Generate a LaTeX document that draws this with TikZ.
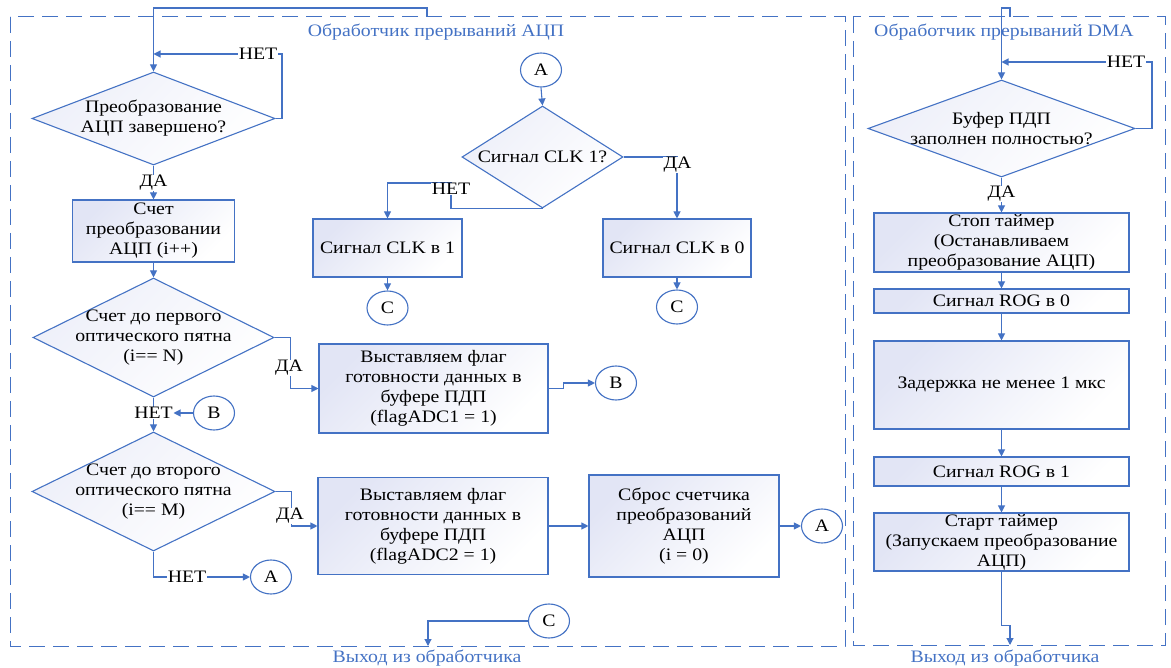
\documentclass[tikz,border=0pt]{standalone}
\usepackage{fontspec}
\setmainfont{Liberation Serif}[FakeStretch=1.13]
\usetikzlibrary{shapes.geometric,arrows.meta,calc}
\definecolor{bl}{RGB}{68,114,196}
\definecolor{lav}{RGB}{226,229,245}
\begin{document}
\begin{tikzpicture}[x=1pt,y=-1pt,
  font=\fontsize{17.5}{20}\selectfont,
  box/.style={draw=bl, line width=1.1pt, top color=lav, bottom color=white, shading angle=45, align=center, inner sep=0pt},
  dia/.style={diamond, draw=bl, line width=1.1pt, top color=lav!60, bottom color=white, shading angle=45, inner sep=0pt},
  con/.style={ellipse, draw=bl, line width=1.1pt, fill=white, minimum width=41pt, minimum height=34pt, inner sep=0pt},
  arr/.style={draw=bl, line width=1.1pt, -{Triangle[length=7pt,width=7pt]}},
  lbl/.style={fill=white, inner sep=0.6pt},
  txt/.style={align=center, inner sep=0pt},
  panel/.style={draw=bl, line width=1pt, dash pattern=on 16pt off 8pt},
  ttl/.style={text=bl, inner sep=0pt}]
\useasboundingbox (0,0) rectangle (1171,668);
% panels
\draw[panel] (10,17) rectangle (845,646);
\draw[panel] (853,17) rectangle (1165,645);
\node[ttl] (t1) at (436,32) {Обработчик прерываний АЦП};
\node[ttl] (t2) at (1004,32) {Обработчик прерываний DMA};
\node[ttl] (e1) at (427,658) {Выход из обработчика};
\node[ttl] (e2) at (1005,658) {Выход из обработчика};

% ---------- left panel ----------
\node[dia, minimum width=243pt, minimum height=93pt] (d1) at (153.5,118.5) {};
\node[txt] at (d1) {Преобразование\\АЦП завершено?};
\node[box, minimum width=162pt, minimum height=62pt] (b1) at (153.5,231) {Счет\\преобразовании\\АЦП (i++)};
\node[dia, minimum width=241pt, minimum height=119pt] (d2) at (153.5,337.5) {};
\node[txt] at (d2) {Счет до первого\\оптического пятна\\(i== N)};
\node[dia, minimum width=243pt, minimum height=119pt] (d3) at (153.5,491.5) {};
\node[txt] at (d3) {Счет до второго\\оптического пятна\\(i== M)};
\node[box, minimum width=229pt, minimum height=89pt] (bf1) at (433.5,388.5) {Выставляем флаг\\готовности данных в\\буфере ПДП\\(flagADC1 = 1)};
\node[box, minimum width=230pt, minimum height=97pt] (bf2) at (433,526) {Выставляем флаг\\готовности данных в\\буфере ПДП\\(flagADC2 = 1)};
\node[box, minimum width=190pt, minimum height=102pt] (bs) at (684,526) {Сброс счетчика\\преобразований\\АЦП\\(i = 0)};
\node[con] (cA1) at (541,70) {A};
\node[dia, minimum width=161pt, minimum height=102pt] (dc) at (542.5,157) {};
\node[txt] at (dc) {Сигнал CLK 1?};
\node[box, minimum width=149pt, minimum height=58pt] (bc1) at (387.5,248) {Сигнал CLK в 1};
\node[box, minimum width=148pt, minimum height=58pt] (bc0) at (677,248) {Сигнал CLK в 0};
\node[con] (cC1) at (387.5,308) {C};
\node[con] (cC2) at (677,307) {C};
\node[con] (cB1) at (616,383) {B};
\node[con] (cB2) at (214,413) {B};
\node[con] (cA2) at (271,577) {A};
\node[con] (cA3) at (822,526) {A};
\node[con] (cC3) at (549,621) {C};

\coordinate (in1) at (427,17);
\draw[arr] (in1) -- (427,8) -| (d1.north);
\coordinate (j1) at (282,54);
\draw[arr] (d1.east) -| (j1) -- (j1 -| d1.north);
\node[lbl] at (258,54) {НЕТ};
\draw[arr] (d1.south) -- (b1.north);
\node[lbl] at (153.5,183) {ДА};
\draw[arr] (b1.south) -- (d2.north);
\draw[arr] (d2.east) -- ++(16,0) |- (bf1.west);
\node[lbl] at (289,368) {ДА};
\draw[arr] (bf1.east) -- ++(15,0) |- (cB1.west);
\draw[arr] (d2.south) -- (d3.north);
\node[lbl] (nl) at (153.5,413) {НЕТ};
\draw[arr] (cB2.west) -- (nl.east);
\draw[arr] (d3.east) -- ++(16,0) |- (bf2.west);
\node[lbl] at (290,516) {ДА};
\draw[arr] (d3.south) |- (cA2.west);
\node[lbl] at (187,577) {НЕТ};
\draw[arr] (bf2.east) -- (bs.west);
\draw[arr] (bs.east) -- (cA3.west);
\draw[arr] (cA1.south) -- (dc.north);
\draw[arr] (dc.east) -| (bc0.north);
\node[lbl] at (677.5,165) {ДА};
\coordinate (k1) at (451,183);
\draw[arr] (dc.south) -| (k1) -| (bc1.north);
\node[lbl] at (451,189) {НЕТ};
\draw[arr] (bc1.south) -- (cC1.north);
\draw[arr] (bc0.south) -- (cC2.north);
\coordinate (out1) at (428,646);
\draw[arr] (cC3.west) -| (out1);

% ---------- right panel ----------
\node[dia, minimum width=267pt, minimum height=97pt] (dd) at (1001.5,128.5) {};
\node[txt] at (dd) {Буфер ПДП\\заполнен полностью?};
\node[box, minimum width=255pt, minimum height=59pt] (r1) at (1001.5,242.5) {Стоп таймер\\(Останавливаем\\преобразование АЦП)};
\node[box, minimum width=255pt, minimum height=24pt] (r2) at (1001.5,301) {Сигнал ROG в 0};
\node[box, minimum width=255pt, minimum height=88pt] (r3) at (1001.5,385) {Задержка не менее 1 мкс};
\node[box, minimum width=255pt, minimum height=29pt] (r4) at (1001.5,471.5) {Сигнал ROG в 1};
\node[box, minimum width=255pt, minimum height=58pt] (r5) at (1001.5,542) {Старт таймер\\(Запускаем преобразование\\АЦП)};

\coordinate (in2) at (1010,17);
\draw[arr] (in2) -- (1010,8) -| (dd.north);
\coordinate (j2) at (1152,62);
\draw[arr] (dd.east) -| (j2) -- (j2 -| dd.north);
\node[lbl] at (1126,62) {НЕТ};
\draw[arr] (dd.south) -- (r1.north);
\node[lbl] at (1001.5,194) {ДА};
\draw[arr] (r1.south) -- (r2.north);
\draw[arr] (r2.south) -- (r3.north);
\draw[arr] (r3.south) -- (r4.north);
\draw[arr] (r4.south) -- (r5.north);
\coordinate (out2) at (1010,645);
\draw[arr] (r5.south) -- ++(0,54) -| (out2);
\end{tikzpicture}
\end{document}
